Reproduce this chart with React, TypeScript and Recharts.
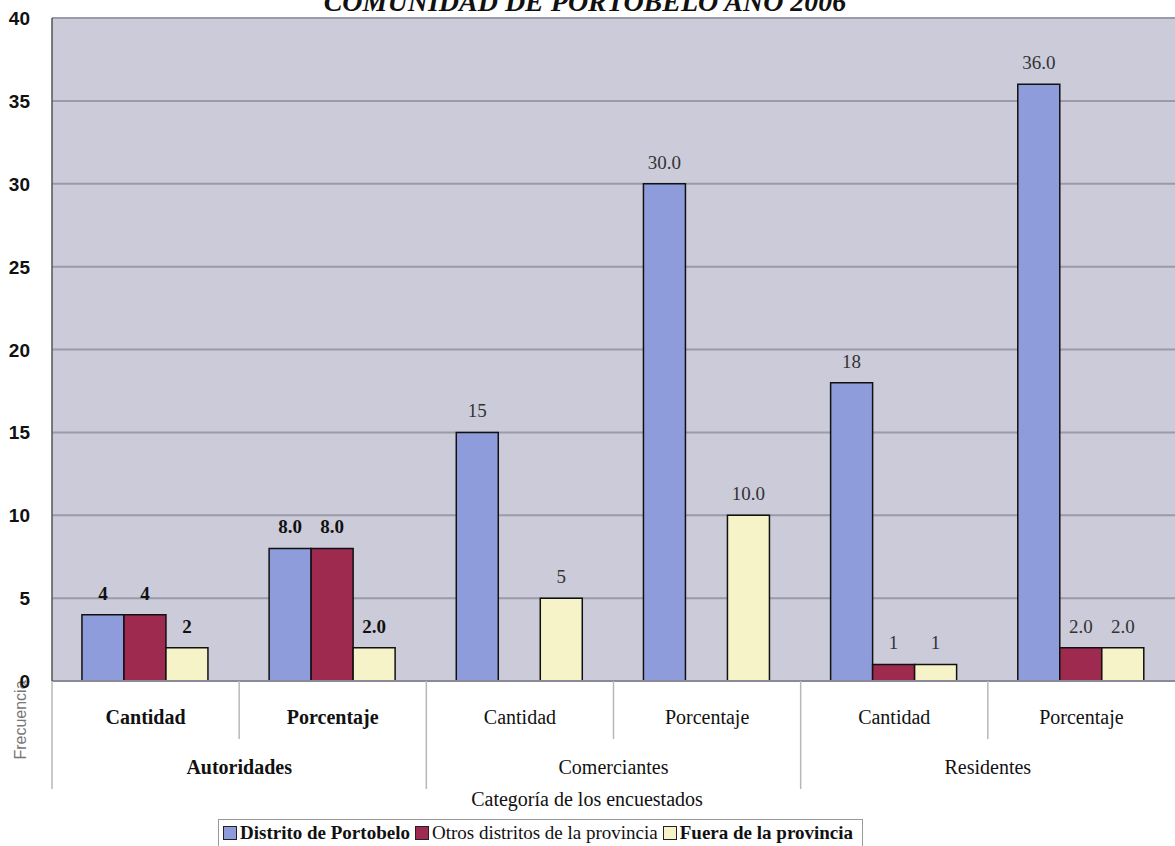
import React from 'react';
import { BarChart, Bar, XAxis, YAxis, CartesianGrid, Legend, LabelList, Label } from 'recharts';

const subLabels = ['Cantidad', 'Porcentaje', 'Cantidad', 'Porcentaje', 'Cantidad', 'Porcentaje'];
const groupLabels = ['Autoridades', 'Autoridades', 'Comerciantes', 'Comerciantes', 'Residentes', 'Residentes'];
const distrito = [4, 8, 15, 30, 18, 36];
const otros = [4, 8, 0, 0, 1, 2];
const fuera = [2, 2, 5, 10, 1, 2];
const yTicks = [0, 5, 10, 15, 20, 25, 30, 35, 40];

const seriesNames = ['Distrito de Portobelo', 'Otros distritos de la provincia', 'Fuera de la provincia'];
const seriesColors = ['#8e9cdb', '#9e2a50', '#f6f3c9'];

const data = subLabels.map((s, i) => ({
  key: groupLabels[i] + '|' + s,
  sub: s,
  group: groupLabels[i],
  distrito: distrito[i],
  otros: otros[i],
  fuera: fuera[i],
}));

const W = 1175;
const H = 846;
const Y_W = 52;
const BAND = (W - Y_W) / data.length;
const SERIF = "'Liberation Serif', 'Times New Roman', serif";
const SANS = "'Liberation Sans', Arial, sans-serif";

const fmt = (v: number, i: number) => (subLabels[i] === 'Porcentaje' ? v.toFixed(1) : String(v));

const makeLabel = (boldZero: boolean) => (props: any) => {
  const { x, y, width, value, index } = props;
  const isAut = groupLabels[index] === 'Autoridades';
  const bold = isAut || (boldZero && value === 0 && subLabels[index] === 'Porcentaje');
  return (
    <text
      x={Number(x) + Number(width) / 2}
      y={Number(y) - 15}
      textAnchor="middle"
      fontFamily={SERIF}
      fontSize={19}
      fontWeight={bold ? 'bold' : 'normal'}
      fill={bold ? '#111' : '#333'}
    >
      {fmt(value, index)}
    </text>
  );
};

const XTick = (props: any) => {
  const { x, y, payload } = props;
  const i = payload.index;
  const left = x - BAND / 2;
  const isGroupStart = i % 2 === 0;
  const isAut = groupLabels[i] === 'Autoridades';
  return (
    <g>
      <line x1={left} y1={y} x2={left} y2={isGroupStart ? y + 108 : y + 58} stroke="#b8b8b8" strokeWidth={1.5} />
      <text x={x} y={y + 43} textAnchor="middle" fontFamily={SERIF} fontSize={20} fontWeight={isAut ? 'bold' : 'normal'} fill="#111">
        {subLabels[i]}
      </text>
      {isGroupStart && (
        <text x={x + BAND / 2} y={y + 93} textAnchor="middle" fontFamily={SERIF} fontSize={20} fontWeight={isAut ? 'bold' : 'normal'} fill="#111">
          {groupLabels[i]}
        </text>
      )}
    </g>
  );
};

const YTick = (props: any) => {
  const { x, y, payload } = props;
  return (
    <text x={x} y={y} dy={7} textAnchor="end" fontFamily={SANS} fontSize={19} fontWeight="bold" fill="#111">
      {payload.value}
    </text>
  );
};

const renderLegend = () => (
  <div
    style={{
      display: 'flex',
      alignItems: 'center',
      border: '1px solid #999',
      padding: '0 4px',
      height: 26,
      fontFamily: SERIF,
      fontSize: 19,
      color: '#111',
      whiteSpace: 'nowrap',
      background: '#fff',
    }}
  >
    {seriesNames.map((n, i) => (
      <span
        key={n}
        style={{ display: 'inline-flex', alignItems: 'center', marginRight: 5, fontFamily: SERIF, fontWeight: i === 1 ? 'normal' : 'bold' }}
      >
        <span style={{ display: 'inline-block', width: 12, height: 12, background: seriesColors[i], border: '1.5px solid #222', marginRight: 3 }} />
        {n}
      </span>
    ))}
  </div>
);

export default function App() {
  return (
    <div style={{ position: 'absolute', left: 0, top: 0, width: W, height: H, background: '#fff', fontFamily: SERIF }}>
      <BarChart
        width={W}
        height={H}
        data={data}
        margin={{ top: 18, right: 0, left: 0, bottom: 0 }}
        barGap={0}
        barCategoryGap="16%"
      >
        <CartesianGrid horizontal vertical={false} fill="#cbcbd9" stroke="#9a9aa8" strokeWidth={2} />
        <XAxis
          dataKey="key"
          height={165}
          interval={0}
          tickLine={false}
          tickSize={0}
          tickMargin={0}
          axisLine={{ stroke: '#8a8a96', strokeWidth: 2 }}
          tick={<XTick />}
        >
          <Label
            content={() => (
              <text x={587} y={806} textAnchor="middle" fontFamily={SERIF} fontSize={20} fill="#111">
                Categoría de los encuestados
              </text>
            )}
          />
        </XAxis>
        <YAxis
          width={Y_W}
          domain={[0, 40]}
          ticks={yTicks}
          interval={0}
          tickLine={false}
          tickSize={0}
          tickMargin={22}
          axisLine={{ stroke: '#555', strokeWidth: 1.5 }}
          tick={<YTick />}
        >
          <Label
            content={() => (
              <g>
                <text x={585} y={11} textAnchor="middle" fontFamily={SERIF} fontSize={28} fontWeight="bold" fontStyle="italic" fill="#111">
                  COMUNIDAD DE PORTOBELO AÑO 2006
                </text>
                <text
                  x={26}
                  y={720}
                  transform="rotate(-90 26 720)"
                  textAnchor="middle"
                  fontFamily={SANS}
                  fontSize={16}
                  fill="#777"
                >
                  Frecuencia
                </text>
              </g>
            )}
          />
        </YAxis>
        <Legend
          layout="horizontal"
          verticalAlign="middle"
          align="center"
          content={renderLegend}
          wrapperStyle={{ position: 'absolute', left: 218, top: 819, width: 'auto', height: 28, fontFamily: SERIF }}
        />
        <Bar dataKey="distrito" name={seriesNames[0]} fill={seriesColors[0]} stroke="#111" strokeWidth={1.5} isAnimationActive={false}>
          <LabelList dataKey="distrito" content={makeLabel(false)} />
        </Bar>
        <Bar dataKey="otros" name={seriesNames[1]} fill={seriesColors[1]} stroke="#111" strokeWidth={1.5} isAnimationActive={false}>
          <LabelList dataKey="otros" content={makeLabel(true)} />
        </Bar>
        <Bar dataKey="fuera" name={seriesNames[2]} fill={seriesColors[2]} stroke="#111" strokeWidth={1.5} isAnimationActive={false}>
          <LabelList dataKey="fuera" content={makeLabel(false)} />
        </Bar>
      </BarChart>
    </div>
  );
}
